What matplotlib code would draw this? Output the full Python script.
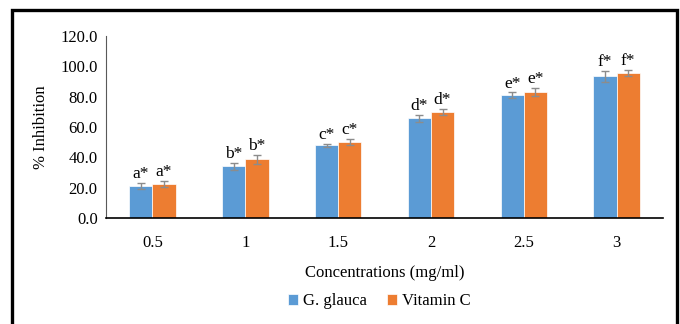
import matplotlib
matplotlib.use('Agg')
import matplotlib.pyplot as plt
from matplotlib.patches import Rectangle
import numpy as np

plt.rcParams['font.family'] = ['Liberation Serif', 'DejaVu Serif']

# data
concentrations = ['0.5', '1', '1.5', '2', '2.5', '3']
glauca = [21.1, 34.1, 48.1, 65.9, 81.1, 93.4]
glauca_err = [2.0, 2.4, 1.0, 2.3, 1.7, 3.8]
vitc = [22.4, 38.7, 50.3, 69.9, 83.1, 95.6]
vitc_err = [2.0, 3.0, 2.0, 2.2, 2.7, 2.0]
letters = ['a*', 'b*', 'c*', 'd*', 'e*', 'f*']

blue = '#5B9BD5'
orange = '#ED7D31'
errc = '#8C8C8C'

fig = plt.figure(figsize=(6.8, 3.24), dpi=100)
ax = fig.add_axes([0.156, 0.327, 0.819, 0.562])

x = np.arange(len(concentrations))
w = 0.25
ekw = dict(ecolor=errc, elinewidth=1, capsize=3, capthick=1)
ax.bar(x - w / 2, glauca, w, yerr=glauca_err, color=blue, edgecolor='white',
       linewidth=0.5, label='G. glauca', error_kw=ekw)
ax.bar(x + w / 2, vitc, w, yerr=vitc_err, color=orange, edgecolor='white',
       linewidth=0.5, label='Vitamin C', error_kw=ekw)

for i in range(len(x)):
    ax.text(x[i] - w / 2, glauca[i] + glauca_err[i] + 0.5, letters[i],
            ha='center', va='bottom', fontsize=12.5)
    ax.text(x[i] + w / 2, vitc[i] + vitc_err[i] + 0.5, letters[i],
            ha='center', va='bottom', fontsize=12.5)

ax.set_xlim(-0.5, len(x) - 0.5)
ax.set_ylim(0, 120)
ax.set_yticks(np.arange(0, 121, 20))
ax.set_yticklabels([f'{v:.1f}' for v in np.arange(0, 121, 20)])
ax.set_xticks(x)
ax.set_xticklabels(concentrations)
ax.tick_params(length=0, labelsize=12)
ax.tick_params(axis='x', pad=12)
ax.tick_params(axis='y', pad=6)
for s in ['top', 'right']:
    ax.spines[s].set_visible(False)
ax.spines['left'].set_color('#595959')
ax.spines['bottom'].set_color('black')
ax.spines['bottom'].set_linewidth(1.2)

ax.set_ylabel('% Inhibition', fontsize=12, labelpad=8)
ax.set_xlabel('Concentrations (mg/ml)', fontsize=12, labelpad=10)

ax.legend(loc='upper center', bbox_to_anchor=(0.49, -0.33), ncol=2,
          frameon=False, fontsize=12, handlelength=0.6, handleheight=0.6,
          handletextpad=0.3, columnspacing=1.2)

# outer frame
fig.patches.append(Rectangle((12 / 680, -0.05), 665 / 680, 1.05 - 10 / 324,
                             transform=fig.transFigure, fill=False,
                             edgecolor='black', linewidth=2.4, clip_on=False))

fig.savefig('out.png', dpi=100, facecolor='white')
